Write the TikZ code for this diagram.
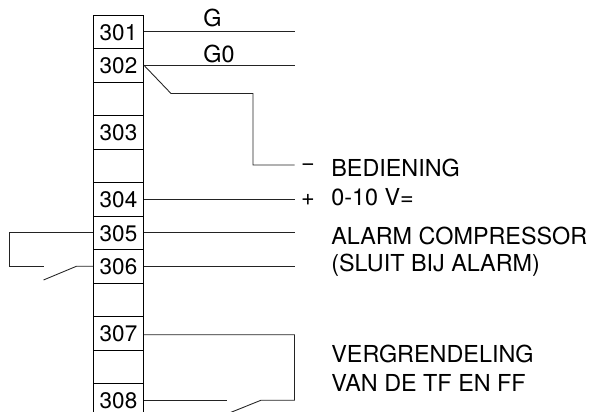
\documentclass[tikz,border=0pt]{standalone}
\usepackage{fontspec}
\setmainfont{TeX Gyre Heros}
\usetikzlibrary{positioning}
\definecolor{wirecolor}{RGB}{35, 35, 35}

\tikzset{
    cellbox/.style={draw=black, line width=0.5pt, minimum width=1cm, minimum height=0.67cm, inner sep=0pt, text height=9.8pt, text depth=0pt, font=\fontsize{12.8}{15}\selectfont},
    wire/.style={draw=wirecolor, line width=0.5pt},
    lbl/.style={anchor=base west, inner sep=0pt, font=\fontsize{13.3}{16}\selectfont},
    sign/.style={inner sep=0pt, font=\fontsize{13.3}{16}\selectfont}
}

\begin{document}
\begin{tikzpicture}[x=0.02cm, y=-0.02cm]
    \useasboundingbox (0, 0) rectangle (592, 412);
    \clip (0, 0) rectangle (592, 412);

    % Terminal strip
    \node[cellbox] (c301) at (118.5, 31.75) {301};
    \node[cellbox] (c302) at (118.5, 65.25) {302};
    \node[cellbox] (e1) at (118.5, 98.75) {};
    \node[cellbox] (c303) at (118.5, 132.25) {303};
    \node[cellbox] (e2) at (118.5, 165.75) {};
    \node[cellbox] (c304) at (118.5, 199.25) {304};
    \node[cellbox] (c305) at (118.5, 232.75) {305};
    \node[cellbox] (c306) at (118.5, 266.25) {306};
    \node[cellbox] (e3) at (118.5, 299.75) {};
    \node[cellbox] (c307) at (118.5, 333.25) {307};
    \node[cellbox] (e4) at (118.5, 366.75) {};
    \node[cellbox] (c308) at (118.5, 400.25) {308};

    % Free ends
    \coordinate (g) at (294.5, 31.75);
    \coordinate (g0) at (294.5, 65.25);
    \coordinate (minus) at (294.5, 165);
    \coordinate (plus) at (294.5, 199.25);
    \coordinate (alarm) at (294.5, 232.75);
    \coordinate (sluit) at (294.5, 266.25);
    \coordinate (loopa) at (9.5, 232.75);
    \coordinate (loopb) at (9.5, 266.25);
    \coordinate (conta) at (43.5, 266.25);
    \coordinate (contb) at (43.5, 280);
    \coordinate (contc) at (76.5, 266.25);
    \coordinate (lock) at (294.5, 334.7);
    \coordinate (lockb) at (294.5, 400.25);
    \coordinate (lockc) at (261, 400.25);
    \coordinate (lockd) at (228, 413.5);
    \coordinate (locke) at (227.3, 400.25);

    % Wires
    \draw[wire] (c301.east) -- (g);
    \draw[wire] (c302.east) -- (g0);
    \draw[wire] (c302.east) -- (171, 93.5) -- (253, 93.5) -- (253, 165) -- (minus);
    \draw[wire] (c304.east) -- (plus);
    \draw[wire] (c305.east) -- (alarm);
    \draw[wire] (c306.east) -- (sluit);
    \draw[wire] (c305.west) -- (loopa) -- (loopb) -- (conta);
    \draw[wire] (contb) -- (contc) -- (c306.west);
    \draw[wire] (c307.east |- lock) -- (lock) -- (lockb) -- (lockc) -- (lockd);
    \draw[wire] (c308.east) -- (locke);

    % Labels
    \node[lbl] (lg) at (203, 26.7) {G};
    \node[lbl] (lg0) at (203, 62.3) {G0};
    \node[sign] (lm) at (308, 167.5) {−};
    \node[sign] (lp) at (308, 200) {+};
    \node[lbl] (l1) at (331, 176.7) {BEDIENING};
    \node[lbl] (l2) at (331, 205.7) {0-10 V=};
    \node[lbl] (l3) at (331, 244) {ALARM COMPRESSOR};
    \node[lbl] (l4) at (331, 271.7) {(SLUIT BIJ ALARM)};
    \node[lbl] (l5) at (331, 362.7) {VERGRENDELING};
    \node[lbl] (l6) at (331, 391) {VAN DE TF EN FF};
\end{tikzpicture}
\end{document}
